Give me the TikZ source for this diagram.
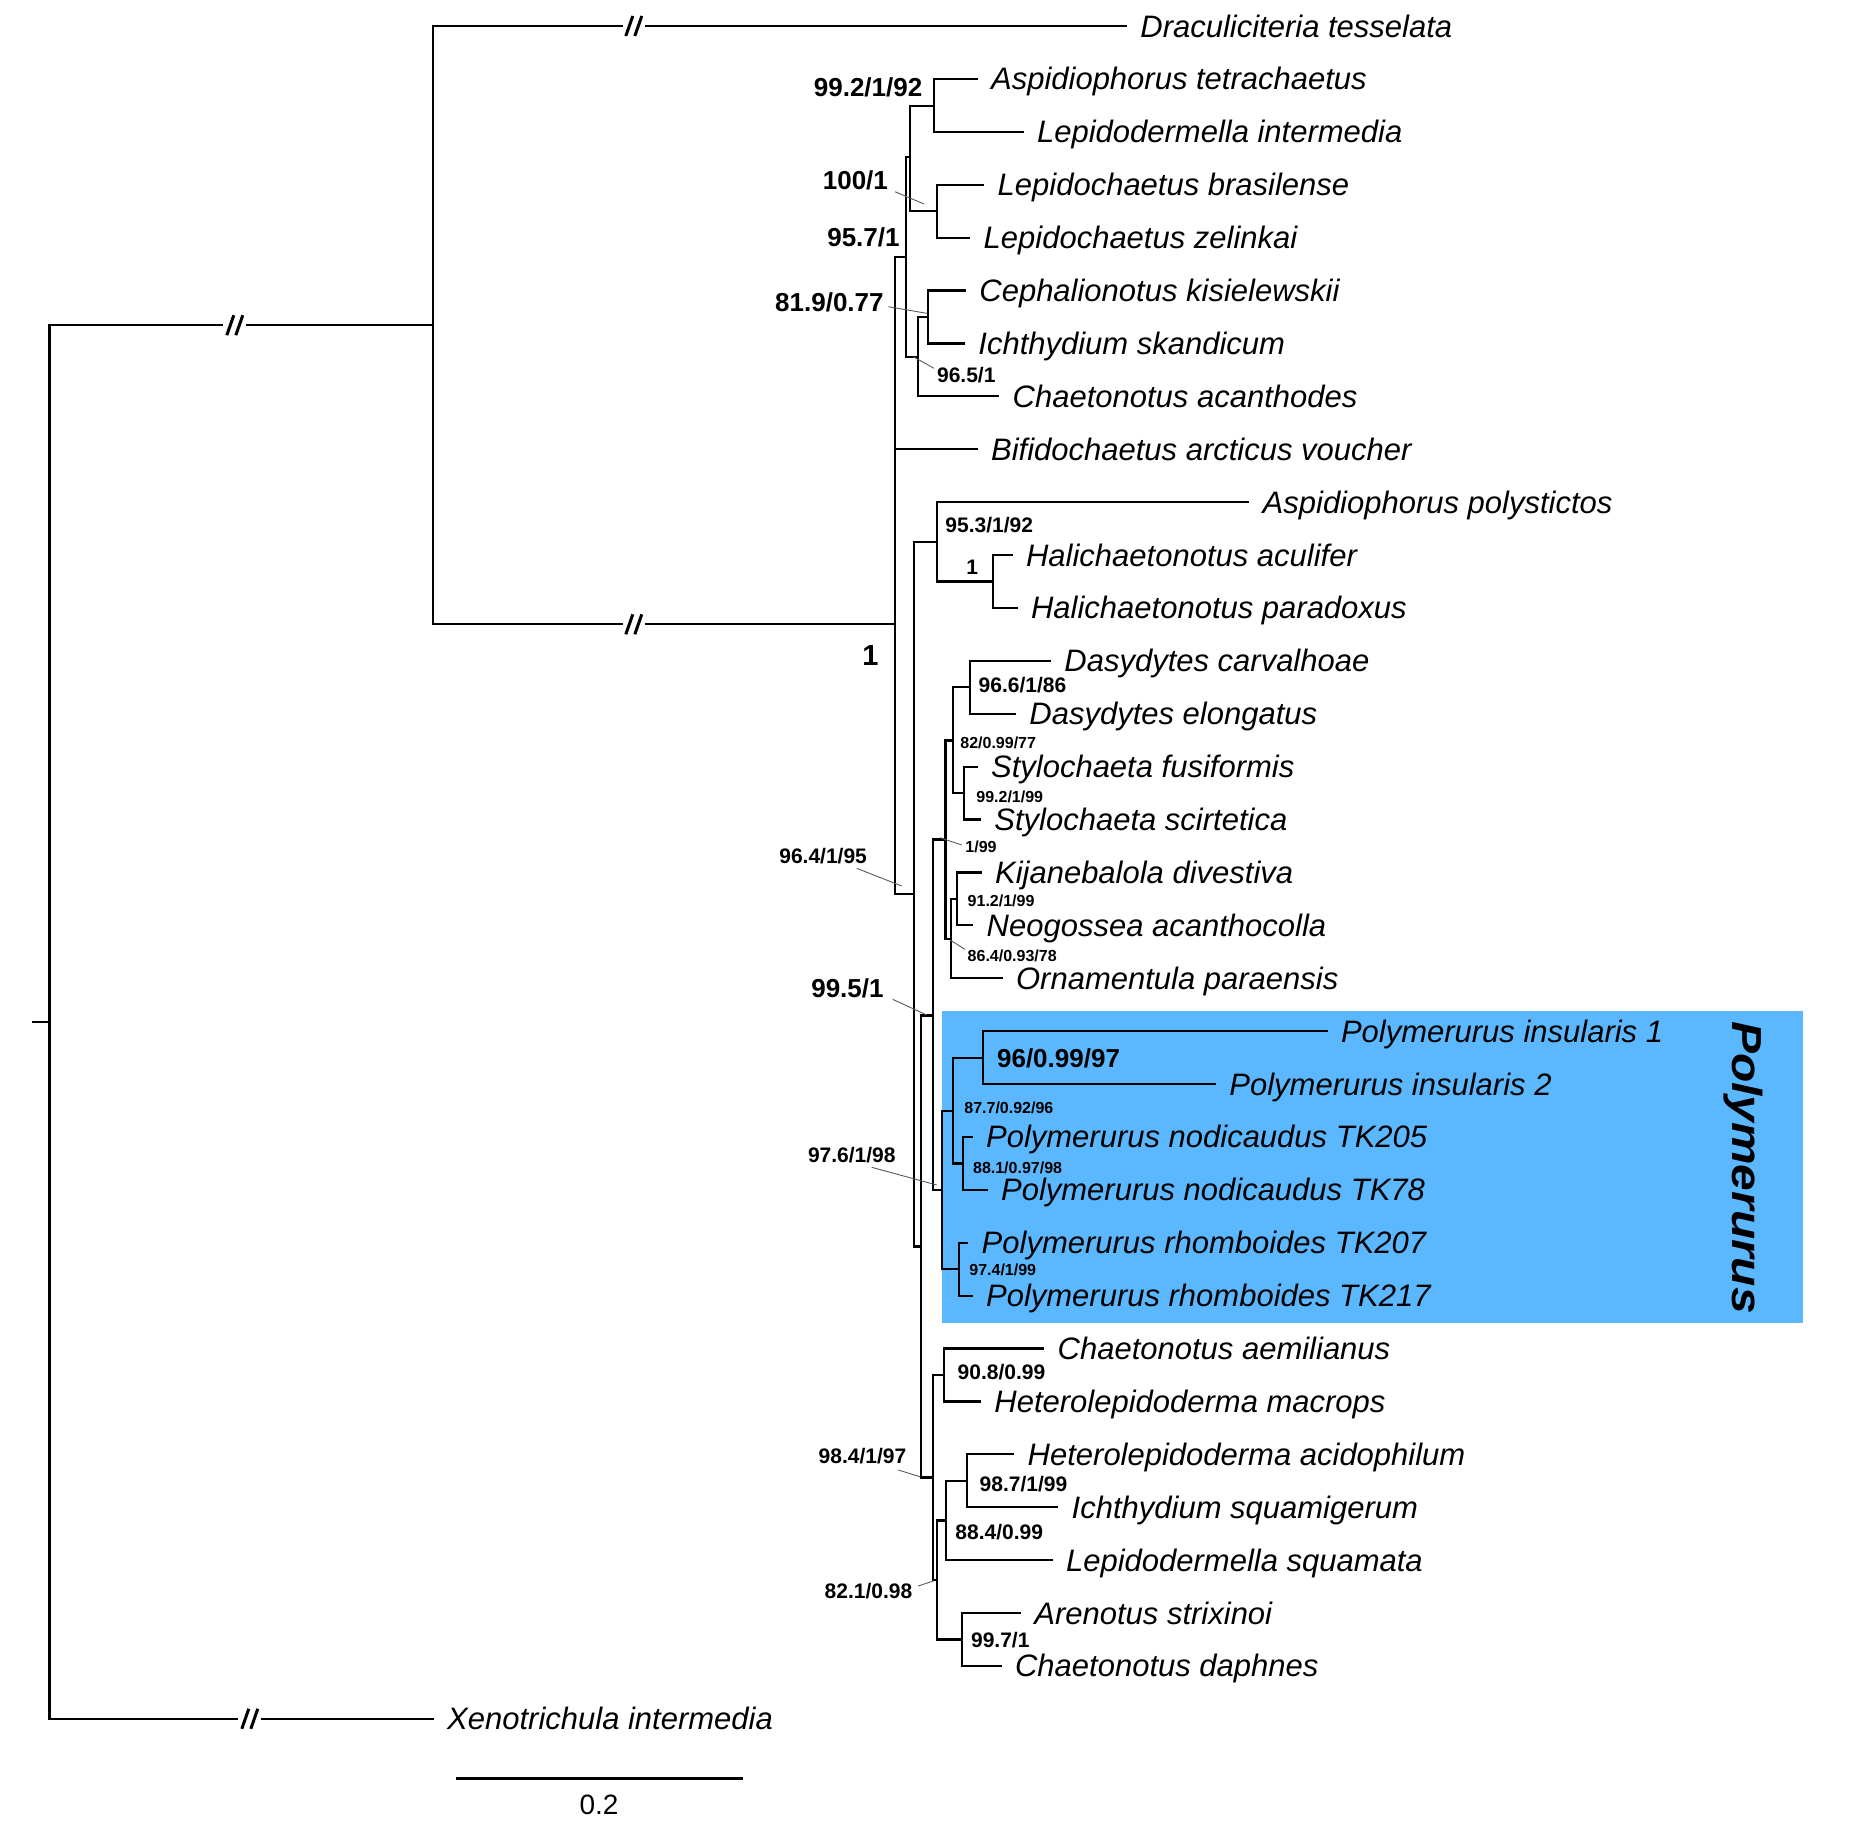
\documentclass[tikz,border=0pt]{standalone}
\usepackage{fontspec}
\setmainfont{Liberation Sans}
\definecolor{polyblue}{RGB}{91,184,255}
\definecolor{leadgray}{RGB}{90,90,90}
\newcommand\mytaxon[4]{\coordinate (t#1) at (#2,#3); \node[taxon] (l#1) at (t#1) {#4};}
\begin{document}
\begin{tikzpicture}[x=0.5pt,y=-0.5pt,
  br/.style={line width=1.1pt, line join=miter, line cap=rect},
  leader/.style={line width=0.45pt, leadgray},
  taxon/.style={anchor=base west, inner sep=0pt, xshift=7pt, yshift=-5.5pt, font=\fontsize{15.5}{18}\selectfont\itshape},
  bigsup/.style={inner sep=0pt, yshift=-4.65pt, font=\fontsize{13}{15}\selectfont\bfseries},
  midsup/.style={inner sep=0pt, yshift=-3.76pt, font=\fontsize{10.5}{12}\selectfont\bfseries},
  smallsup/.style={inner sep=0pt, yshift=-2.86pt, font=\fontsize{8}{10}\selectfont\bfseries},
  brk/.pic={\draw[line width=1.5pt] (-8,10) -- (-1,-10) (1,10) -- (8,-10);}
]
\useasboundingbox (0,0) rectangle (1849,1832);

% Polymerurus box
\fill[polyblue] (941.7,1010.7) rectangle (1803.3,1323.3);
\node[inner sep=0pt, rotate=-90, font=\fontsize{21}{24}\selectfont\bfseries\itshape] (polylab) at (1743.5,1167.5) {\scalebox{1.14}[1]{Polymerurus}};

% tips
\mytaxon{0}{1126}{26}{Draculiciteria tesselata}
\mytaxon{1}{976.7}{78.9}{Aspidiophorus tetrachaetus}
\mytaxon{2}{1022.7}{131.8}{Lepidodermella intermedia}
\mytaxon{3}{983.3}{184.7}{Lepidochaetus brasilense}
\mytaxon{4}{969.3}{237.6}{Lepidochaetus zelinkai}
\mytaxon{5}{965}{290.5}{Cephalionotus kisielewskii}
\mytaxon{6}{964}{343.4}{Ichthydium skandicum}
\mytaxon{7}{998.3}{396.3}{Chaetonotus acanthodes}
\mytaxon{8}{976.7}{449.2}{Bifidochaetus arcticus voucher}
\mytaxon{9}{1248.3}{502.1}{Aspidiophorus polystictos}
\mytaxon{10}{1011.7}{555}{Halichaetonotus aculifer}
\mytaxon{11}{1016.7}{607.9}{Halichaetonotus paradoxus}
\mytaxon{12}{1050}{660.8}{Dasydytes carvalhoae}
\mytaxon{13}{1015}{713.7}{Dasydytes elongatus}
\mytaxon{14}{976.7}{766.6}{Stylochaeta fusiformis}
\mytaxon{15}{980}{819.5}{Stylochaeta scirtetica}
\mytaxon{16}{980.7}{872.4}{Kijanebalola divestiva}
\mytaxon{17}{972.3}{925.3}{Neogossea acanthocolla}
\mytaxon{18}{1001.7}{978.2}{Ornamentula paraensis}
\mytaxon{19}{1326.6}{1031.1}{Polymerurus insularis 1}
\mytaxon{20}{1215}{1084}{Polymerurus insularis 2}
\mytaxon{21}{971.7}{1136.9}{Polymerurus nodicaudus TK205}
\mytaxon{22}{986.7}{1189.8}{Polymerurus nodicaudus TK78}
\mytaxon{23}{967.3}{1242.7}{Polymerurus rhomboides TK207}
\mytaxon{24}{971.7}{1295.6}{Polymerurus rhomboides TK217}
\mytaxon{25}{1043.3}{1348.5}{Chaetonotus aemilianus}
\mytaxon{26}{980}{1401.4}{Heterolepidoderma macrops}
\mytaxon{27}{1013.3}{1454.3}{Heterolepidoderma acidophilum}
\mytaxon{28}{1057.3}{1507.2}{Ichthydium squamigerum}
\mytaxon{29}{1051.7}{1560.1}{Lepidodermella squamata}
\mytaxon{30}{1020}{1613}{Arenotus strixinoi}
\mytaxon{31}{1000.7}{1665.9}{Chaetonotus daphnes}
\mytaxon{32}{432.8}{1718.8}{Xenotrichula intermedia}

% internal nodes
\coordinate (stub) at (33,1022);
\coordinate (root) at (49.5,1022);
\coordinate (U) at (432.7,325.2);
\coordinate (N1) at (895,624.3);
\coordinate (A) at (906,257);
\coordinate (B) at (910,157);
\coordinate (C) at (934,106);
\coordinate (D) at (936.7,211);
\coordinate (E) at (918.3,357);
\coordinate (F) at (928.3,317);
\coordinate (G) at (914,894.2);
\coordinate (H) at (937.3,541.8);
\coordinate (I) at (993.3,581.5);
\coordinate (R) at (920.7,1246.5);
\coordinate (P1) at (932.7,1015.5);
\coordinate (K3) at (945.5,839.5);
\coordinate (K1) at (953.3,740.5);
\coordinate (Dasy) at (970,687.3);
\coordinate (Styl) at (964,793);
\coordinate (K2) at (950.7,938.6);
\coordinate (Kij) at (957.3,898.9);
\coordinate (Poly) at (941.7,1190.1);
\coordinate (P2) at (952.7,1111);
\coordinate (Ins) at (982.7,1057.6);
\coordinate (Nod) at (963.3,1163.4);
\coordinate (Rho) at (959.3,1269.2);
\coordinate (Q) at (932.7,1477.5);
\coordinate (Ch) at (944,1375);
\coordinate (M) at (937.3,1580);
\coordinate (L) at (946,1520.5);
\coordinate (Het) at (967.3,1480.8);
\coordinate (Ar) at (961.7,1639.5);

% break points
\coordinate (bTl) at (222.3,325.2);   \coordinate (bTr) at (247.3,325.2);
\coordinate (bXl) at (237.3,1718.8);  \coordinate (bXr) at (262.3,1718.8);
\coordinate (bDl) at (621.7,26);      \coordinate (bDr) at (646,26);
\coordinate (bNl) at (621.7,624.3);   \coordinate (bNr) at (646,624.3);

% branches
\draw[br] (stub) -- (root);
\draw[br] (root) |- (bTl);  \draw[br] (bTr) -- (U);
\draw[br] (root) |- (bXl);  \draw[br] (bXr) -- (t32);
\draw[br] (U) |- (bDl);     \draw[br] (bDr) -- (t0);
\draw[br] (U) |- (bNl);     \draw[br] (bNr) -- (N1);
\pic at (234.8,325.2) {brk};
\pic at (249.8,1718.8) {brk};
\pic at (633.8,26) {brk};
\pic at (633.8,624.3) {brk};

\draw[br] (N1) |- (A);  \draw[br] (N1) |- (t8);  \draw[br] (N1) |- (G);
\draw[br] (A) |- (B);   \draw[br] (A) |- (E);
\draw[br] (B) |- (C);   \draw[br] (B) |- (D);
\draw[br] (C) |- (t1);  \draw[br] (C) |- (t2);
\draw[br] (D) |- (t3);  \draw[br] (D) |- (t4);
\draw[br] (E) |- (F);   \draw[br] (E) |- (t7);
\draw[br] (F) |- (t5);  \draw[br] (F) |- (t6);
\draw[br] (G) |- (H);   \draw[br] (G) |- (R);
\draw[br] (H) |- (t9);  \draw[br] (H) |- (I);
\draw[br] (I) |- (t10); \draw[br] (I) |- (t11);
\draw[br] (R) |- (P1);  \draw[br] (R) |- (Q);
\draw[br] (P1) |- (K3); \draw[br] (P1) |- (Poly);
\draw[br] (K3) |- (K1); \draw[br] (K3) |- (K2);
\draw[br] (K1) |- (Dasy); \draw[br] (K1) |- (Styl);
\draw[br] (Dasy) |- (t12); \draw[br] (Dasy) |- (t13);
\draw[br] (Styl) |- (t14); \draw[br] (Styl) |- (t15);
\draw[br] (K2) |- (Kij); \draw[br] (K2) |- (t18);
\draw[br] (Kij) |- (t16); \draw[br] (Kij) |- (t17);
\draw[br] (Poly) |- (P2); \draw[br] (Poly) |- (Rho);
\draw[br] (P2) |- (Ins); \draw[br] (P2) |- (Nod);
\draw[br] (Ins) |- (t19); \draw[br] (Ins) |- (t20);
\draw[br] (Nod) |- (t21); \draw[br] (Nod) |- (t22);
\draw[br] (Rho) |- (t23); \draw[br] (Rho) |- (t24);
\draw[br] (Q) |- (Ch);  \draw[br] (Q) |- (M);
\draw[br] (Ch) |- (t25); \draw[br] (Ch) |- (t26);
\draw[br] (M) |- (L);   \draw[br] (M) |- (Ar);
\draw[br] (L) |- (Het); \draw[br] (L) |- (t29);
\draw[br] (Het) |- (t27); \draw[br] (Het) |- (t28);
\draw[br] (Ar) |- (t30); \draw[br] (Ar) |- (t31);

% support values
\node[bigsup, anchor=base east] (s1) at (922.7,86.7) {99.2/1/92};
\node[bigsup, anchor=base east] (s2) at (888.3,180) {100/1};
\node[bigsup, anchor=base east] (s3) at (900,236.7) {95.7/1};
\node[bigsup, anchor=base east] (s4) at (884,301.7) {81.9/0.77};
\node[midsup, anchor=base west] (s5) at (936.7,375) {96.5/1};
\node[midsup, anchor=base west] (s6) at (945,525) {95.3/1/92};
\node[midsup, anchor=base west] (s7) at (966,566.7) {1};
\node[inner sep=0pt, yshift=-5.2pt, font=\fontsize{14.5}{16}\selectfont\bfseries, anchor=base east] (s8) at (879,655) {1};
\node[midsup, anchor=base west] (s9) at (978.3,685) {96.6/1/86};
\node[smallsup, anchor=base west] (s10) at (960,742.7) {82/0.99/77};
\node[smallsup, anchor=base west] (s11) at (976,796.7) {99.2/1/99};
\node[smallsup, anchor=base west] (s12) at (965,846.7) {1/99};
\node[midsup, anchor=base east] (s13) at (867.3,855.7) {96.4/1/95};
\node[smallsup, anchor=base west] (s14) at (967.3,900.7) {91.2/1/99};
\node[smallsup, anchor=base west] (s15) at (967.3,955.7) {86.4/0.93/78};
\node[bigsup, anchor=base east] (s16) at (884,988.3) {99.5/1};
\node[bigsup, anchor=base west] (s17) at (996.7,1058.3) {96/0.99/97};
\node[smallsup, anchor=base west] (s18) at (964,1107.3) {87.7/0.92/96};
\node[midsup, anchor=base east] (s19) at (896,1155) {97.6/1/98};
\node[smallsup, anchor=base west] (s20) at (972.7,1167.7) {88.1/0.97/98};
\node[smallsup, anchor=base west] (s21) at (969,1270) {97.4/1/99};
\node[midsup, anchor=base west] (s22) at (957.3,1371.7) {90.8/0.99};
\node[midsup, anchor=base east] (s23) at (906.7,1456) {98.4/1/97};
\node[midsup, anchor=base west] (s24) at (979.3,1484) {98.7/1/99};
\node[midsup, anchor=base west] (s25) at (955,1531.7) {88.4/0.99};
\node[midsup, anchor=base east] (s26) at (912.7,1590.7) {82.1/0.98};
\node[midsup, anchor=base west] (s27) at (970.7,1640) {99.7/1};

% leader lines
\coordinate (a2) at (895,191.7);    \coordinate (b2) at (924,204);
\coordinate (a4) at (888.3,306.7);  \coordinate (b4) at (926.7,313.3);
\coordinate (a5) at (913.3,356.7);  \coordinate (b5) at (934,368.3);
\coordinate (a12) at (940,837.7);   \coordinate (b12) at (961.7,845);
\coordinate (a13) at (856.7,868.3); \coordinate (b13) at (901.7,886);
\coordinate (a15) at (950,940);     \coordinate (b15) at (965,949.3);
\coordinate (a16) at (892.7,999.3); \coordinate (b16) at (926.7,1015);
\coordinate (a19) at (871.7,1167.3);\coordinate (b19) at (936.7,1185);
\coordinate (a23) at (898.3,1470);  \coordinate (b23) at (920,1476.7);
\coordinate (a26) at (918.3,1586);  \coordinate (b26) at (934,1580.7);
\foreach \k in {2,4,5,12,13,15,16,19,23,26} {\draw[leader] (a\k) -- (b\k);}

% scale bar
\coordinate (sb1) at (456.3,1778);
\coordinate (sb2) at (742.9,1778);
\draw[line width=1.5pt] (sb1) -- (sb2);
\node[inner sep=0pt, font=\fontsize{14}{16}\selectfont] (sblab) at (599,1805) {0.2};
\end{tikzpicture}
\end{document}
